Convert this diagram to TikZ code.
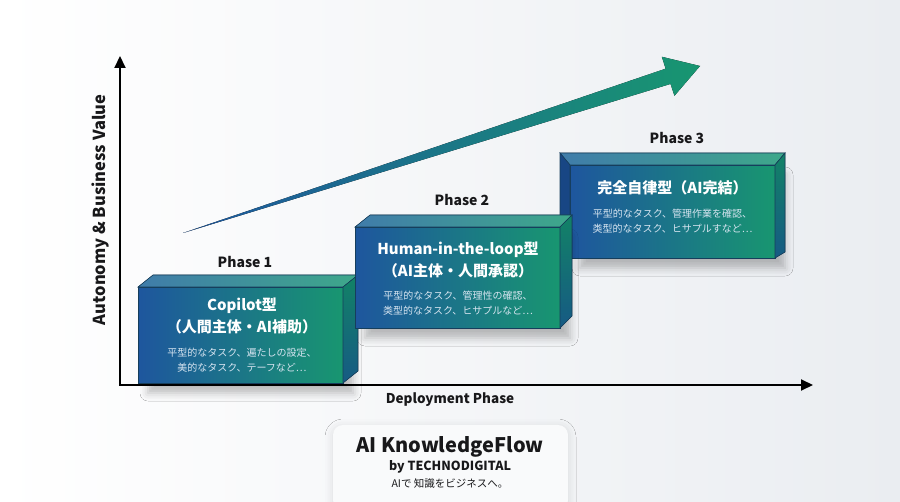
\documentclass[tikz,border=0pt]{standalone}
\usepackage{fontspec}
\setmainfont{Noto Sans CJK JP}
\usetikzlibrary{calc}
\usetikzlibrary{arrows.meta}
\usetikzlibrary{shadows.blur}

\definecolor{faceblue}{RGB}{30,86,158}
\definecolor{facegreen}{RGB}{24,150,112}
\definecolor{topblue}{RGB}{64,124,170}
\definecolor{topgreen}{RGB}{62,168,138}
\definecolor{sidegreen}{RGB}{18,130,102}
\definecolor{sideblue}{RGB}{22,90,132}
\definecolor{bevelblue}{RGB}{24,70,132}
\definecolor{edgecol}{RGB}{22,62,92}
\definecolor{notecol}{RGB}{214,228,240}
\definecolor{bgright}{RGB}{234,237,241}
\definecolor{inkcol}{RGB}{24,24,26}

\tikzset{
  frontface/.style={rectangle, inner sep=0pt, outer sep=0pt,
    left color=faceblue, right color=facegreen,
    draw=edgecol, line width=0.6pt,
    blur shadow={shadow xshift=10pt, shadow yshift=-10pt,
      shadow blur radius=8pt, shadow opacity=26}},
  topface/.style={left color=topblue, right color=topgreen, draw=edgecol, line width=0.6pt},
  sideface/.style={top color=sidegreen, bottom color=sideblue, draw=edgecol, line width=0.6pt},
  bevelface/.style={fill=bevelblue, draw=edgecol, line width=0.6pt},
  phaselabel/.style={font=\fontsize{14}{17}\selectfont\bfseries, text=inkcol},
  boxtitle/.style={font=\fontsize{15}{22}\selectfont\bfseries, text=white, align=center, inner sep=0pt},
  boxnote/.style={font=\fontsize{10}{15}\selectfont, text=notecol, align=center, inner sep=0pt},
  axislabel/.style={font=\fontsize{13.5}{16}\selectfont\bfseries, text=inkcol},
  axis/.style={line width=2pt, draw=black, -{Triangle[length=12pt,width=11pt]}},
  card/.style={rectangle, rounded corners=10pt, minimum width=235pt, minimum height=85pt,
    fill=white!70!bgright, blur shadow={shadow xshift=0pt, shadow yshift=-2pt,
      shadow blur radius=8pt, shadow opacity=12}},
}

\begin{document}
\begin{tikzpicture}[x=1pt, y=-1pt]
\useasboundingbox (0,0) rectangle (900,502);
\fill[left color=white, right color=bgright] (0,0) rectangle (900,502);

% trend arrow
\coordinate (trendtail) at (183,233);
\coordinate (trendtip) at (700,66);
\coordinate (headbase) at ($(trendtip)!33.5pt!(trendtail)$);
\fill[left color=faceblue, right color=facegreen]
  (trendtail) -- ($(headbase)!8pt!90:(trendtip)$)
  -- ($(headbase)!20.5pt!90:(trendtip)$) -- (trendtip)
  -- ($(headbase)!20.5pt!-90:(trendtip)$)
  -- ($(headbase)!8pt!-90:(trendtip)$) -- cycle;

% axes
\coordinate (origin) at (119,385);
\coordinate (ytop) at (120,56);
\coordinate (xend) at (813,385);
\draw[axis] ([xshift=1pt]origin) -- (ytop);
\draw[axis] (origin) -- (xend);
\node[axislabel, font=\fontsize{16.5}{19}\selectfont\bfseries, rotate=90] (ylabel) at (100,210) {Autonomy \& Business Value};
\node[axislabel] (xlabel) at (450,400) {Deployment Phase};

% phase 3
\node[frontface, minimum width=205pt, minimum height=93pt] (box3) at (672.5,211.5) {};
\fill[topface] ([shift={(-10,-12)}]box3.north west) -- ([shift={(10,-12)}]box3.north east)
  -- (box3.north east) -- (box3.north west) -- cycle;
\fill[bevelface] ([shift={(-10,-12)}]box3.north west) -- (box3.north west)
  -- (box3.south west) -- ([shift={(-10,-6)}]box3.south west) -- cycle;
\fill[sideface] (box3.north east) -- ([shift={(10,-12)}]box3.north east)
  -- ([shift={(10,-6)}]box3.south east) -- (box3.south east) -- cycle;
\node[phaselabel] (phase3) at (677,138) {Phase 3};
\node[boxtitle] (title3) at (672.5,188) {完全自律型（AI完結）};
\node[boxnote] (note3) at (672.5,221) {平型的なタスク、管理作業を確認、\\类型的なタスク、ヒサプルすなど…};

% phase 1
\node[frontface, minimum width=205pt, minimum height=96pt] (box1) at (240.5,335) {};
\fill[topface] (box1.north west) -- ([shift={(15,-12)}]box1.north west)
  -- ([shift={(15,-12)}]box1.north east) -- (box1.north east) -- cycle;
\fill[sideface] (box1.north east) -- ([shift={(15,-12)}]box1.north east)
  -- ([shift={(15,-12)}]box1.south east) -- (box1.south east) -- cycle;
\node[phaselabel] (phase1) at (245,262) {Phase 1};
\node[boxtitle] (title1) at (242,316) {Copilot型\\（人間主体・AI補助）};
\node[boxnote] (note1) at (242,360) {平型的なタスク、遍たしの設定、\\美的なタスク、テーフなど…};

% phase 2
\node[frontface, minimum width=205pt, minimum height=101pt] (box2) at (457.5,277.5) {};
\fill[topface] (box2.north west) -- ([shift={(15,-12)}]box2.north west)
  -- ([shift={(12,-12)}]box2.north east) -- (box2.north east) -- cycle;
\fill[sideface] (box2.north east) -- ([shift={(12,-12)}]box2.north east)
  -- ([shift={(12,-12)}]box2.south east) -- (box2.south east) -- cycle;
\node[phaselabel] (phase2) at (462,200) {Phase 2};
\node[boxtitle] (title2) at (458,260) {Human-in-the-loop型\\（AI主体・人間承認）};
\node[boxnote] (note2) at (458,303) {平型的なタスク、管理性の確認、\\类型的なタスク、ヒサプルなど…};

% brand card
\node[card] (card) at (450.5,467.5) {};
\node[font=\fontsize{20}{23}\selectfont\bfseries, text=inkcol] (brand) at (450,447) {AI KnowledgeFlow};
\node[font=\fontsize{12.5}{15}\selectfont\bfseries, text=inkcol] (byline) at (450,467) {by TECHNODIGITAL};
\node[font=\fontsize{10.5}{13}\selectfont, text=inkcol] (tagline) at (450,484) {AIで 知識をビジネスへ。};
\end{tikzpicture}
\end{document}
